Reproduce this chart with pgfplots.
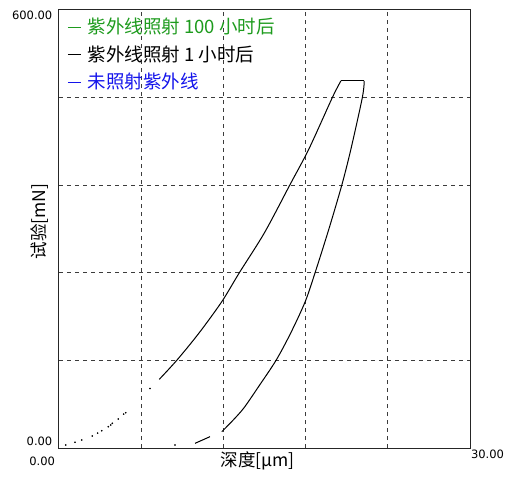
\documentclass[border=0pt]{standalone}
\usepackage{fontspec}
\usepackage{pgfplots}
\pgfplotsset{compat=1.18}
\newfontfamily\cjk{Noto Sans CJK SC}
\newfontfamily\ticfont{DejaVu Sans}
\definecolor{lgreen}{RGB}{30,155,30}
\definecolor{lblue}{RGB}{20,20,235}
\definecolor{gridc}{RGB}{60,60,60}
\begin{document}
\begin{tikzpicture}
\useasboundingbox (-59pt,-29pt) rectangle (449pt,448pt);
\begin{axis}[
  at={(0pt,0pt)}, anchor=south west,
  scale only axis, width=411pt, height=438pt,
  xmin=0, xmax=30, ymin=0, ymax=600,
  xtick={0,30}, ytick={0,600},
  xticklabels={\smash{\llap{0.00\hspace{4pt}}}, \smash{\rlap{\hspace{1pt}\raisebox{7pt}{30.00}}}},
  yticklabels={\smash{\raisebox{3pt}{0.00}}, \smash{\raisebox{-10pt}{600.00}}},
  xticklabel style={anchor=north, inner sep=0pt, yshift=-17pt, font=\fontsize{11.5}{12}\ticfont},
  yticklabel style={anchor=east, inner sep=0pt, xshift=-6.5pt, font=\fontsize{11.5}{12}\ticfont},
  major tick length=0pt,
  tick style={draw=none},
  extra x ticks={6,12,18,24}, extra x tick labels={},
  extra y ticks={120,240,360,480}, extra y tick labels={},
  extra tick style={grid=major, major tick length=0pt},
  major grid style={gridc, line width=0.8pt, dash pattern=on 4pt off 4pt},
  axis line style={black!85, line width=1pt},
  xlabel={\cjk 深度[μm]},
  ylabel={\cjk 试验[mN]},
  xlabel style={at={(axis description cs:0.483,-0.0285)}, anchor=center, inner sep=0pt, font=\fontsize{17.5}{19}\selectfont},
  ylabel style={at={(axis description cs:-0.0255,0.517)}, anchor=south, inner sep=0pt, font=\fontsize{17.5}{19}\selectfont},
  legend image code/.code={\draw[#1, line width=1.4pt] (0pt,6.5pt) -- (13pt,6.5pt);},
  legend cell align=left,
  legend style={at={(axis description cs:0.0195,0.977)}, anchor=north west,
    draw=none, fill=none, inner sep=0pt, row sep=10pt, column sep=6pt,
    nodes={inner sep=0pt, text height=13.5pt, text depth=4pt, font=\fontsize{18.5}{20}\cjk, anchor=base west}},
]
\addlegendimage{lgreen}
\addlegendentry{\textcolor{lgreen}{紫外线照射 100 小时后}}
\addlegendimage{black}
\addlegendentry{\textcolor{black}{紫外线照射 1 小时后}}
\addlegendimage{lblue}
\addlegendentry{\textcolor{lblue}{未照射紫外线}}

% sparse early samples of the loading curve
\addplot[only marks, mark=*, mark size=0.6pt, black, forget plot] coordinates {
(0.49,4.1) (1.17,7.8) (1.66,11.0) (2.43,16.4) (2.82,20.5) (3.12,23.7)
(3.60,29.2) (3.78,31.5) (3.89,33.8) (4.33,39.7) (4.72,46.5) (4.87,48.4) (6.64,81.5)};
% loading
\addplot[black, line width=1pt, smooth, forget plot] coordinates {
(7.32,94.1) (8.59,120) (10.2,157) (11.88,200.4) (13.16,240) (15.0,295)
(16.86,360.7) (18.25,410) (19.95,480) (20.58,503)};
% hold
\addplot[black, line width=1pt, forget plot] coordinates {(20.58,503) (22.28,503)};
% unloading
\addplot[black, line width=1pt, smooth, forget plot] coordinates {
(22.28,503) (22.14,480) (21.29,408) (20.64,360) (19.7,300) (18.69,240) (17.96,200)
(16.9,157) (15.84,120) (14.6,85) (13.5,55) (12.7,38) (11.88,22.3)};
\addplot[black, line width=1pt, forget plot] coordinates {(11.02,15.5) (9.93,6.4)};
\addplot[only marks, mark=*, mark size=0.6pt, black, forget plot] coordinates {(8.47,4.1)};
\end{axis}
\end{tikzpicture}
\end{document}
